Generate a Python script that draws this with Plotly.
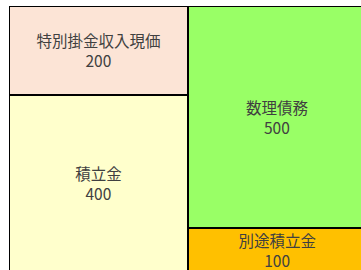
import plotly.graph_objects as go

# Data
columns = ["資産", "負債"]
left_labels = ["積立金", "特別掛金収入現価"]
left_values = [400, 200]
right_labels = ["別途積立金", "数理債務"]
right_values = [100, 500]
left_colors = ["#FFFFCC", "#FCE4D6"]
right_colors = ["#FFC000", "#99FF66"]

FONT = dict(family="Noto Sans CJK JP", size=15.5, color="#404040")

fig = go.Figure()

for i in range(2):
    fig.add_trace(go.Bar(
        x=[0], y=[left_values[i]],
        text=[f"{left_labels[i]}<br>{left_values[i]}"],
        marker=dict(color=left_colors[i], line=dict(color="black", width=2)),
        width=1, showlegend=False, hoverinfo="skip",
        textposition="inside", insidetextanchor="middle", textangle=0,
        textfont=FONT,
    ))
    fig.add_trace(go.Bar(
        x=[1], y=[right_values[i]],
        text=[f"{right_labels[i]}<br>{right_values[i]}"],
        marker=dict(color=right_colors[i], line=dict(color="black", width=2)),
        width=1, showlegend=False, hoverinfo="skip",
        textposition="inside", insidetextanchor="middle", textangle=0,
        textfont=FONT,
    ))

fig.update_layout(
    barmode="stack",
    width=361, height=272,
    margin=dict(l=8.5, r=0, t=5.5, b=0, pad=0),
    paper_bgcolor="white", plot_bgcolor="white",
    uniformtext=dict(minsize=15, mode="show"),
    xaxis=dict(range=[-0.5, 1.469], visible=False, fixedrange=True),
    yaxis=dict(range=[0, 600], visible=False, fixedrange=True),
)

fig.write_html(
    "out.html",
    config={"displayModeBar": False},
    post_script="document.body.style.margin='0';document.body.style.overflow='hidden';",
)
